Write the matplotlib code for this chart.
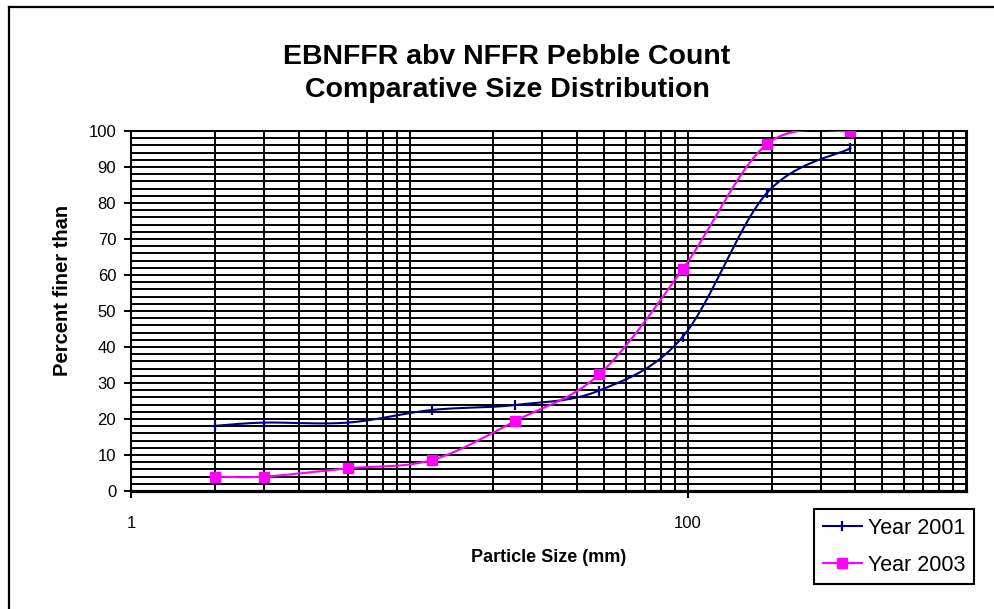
import numpy as np
import matplotlib
matplotlib.use('Agg')
import matplotlib.pyplot as plt
from matplotlib.lines import Line2D
from matplotlib.ticker import NullFormatter

plt.rcParams['font.family'] = ['Liberation Sans', 'DejaVu Sans']

'''
Pebble count data
'''

sizes_mm = [2, 3, 6, 12, 24, 48, 96, 192, 384]
finer_2001 = [18.1, 19.0, 19.0, 22.5, 23.9, 27.9, 42.9, 82.7, 95.2]
finer_2003 = [4.0, 4.0, 6.3, 8.6, 19.5, 32.4, 61.7, 96.3, 100.0]

series_names = ['Year 2001', 'Year 2003']
x_tick_values = [1, 100]
x_tick_labels = ['1', '100']

title_lines = ['EBNFFR abv NFFR Pebble Count', 'Comparative Size Distribution']


def smooth_curve(x, y, steps=40):
    # Excel-like smoothed line: Catmull-Rom in (log10 x, y) space
    u = np.log10(np.array(x, dtype=float))
    v = np.array(y, dtype=float)
    pu = np.concatenate([[u[0]], u, [u[-1]]])
    pv = np.concatenate([[v[0]], v, [v[-1]]])
    out_u, out_v = [], []
    t = np.linspace(0, 1, steps)
    for i in range(1, len(pu) - 2):
        b0u, b3u = pu[i], pu[i + 1]
        b0v, b3v = pv[i], pv[i + 1]
        b1u = b0u + (pu[i + 1] - pu[i - 1]) / 6
        b1v = b0v + (pv[i + 1] - pv[i - 1]) / 6
        b2u = b3u - (pu[i + 2] - pu[i]) / 6
        b2v = b3v - (pv[i + 2] - pv[i]) / 6
        cu = ((1 - t) ** 3 * b0u + 3 * (1 - t) ** 2 * t * b1u
              + 3 * (1 - t) * t ** 2 * b2u + t ** 3 * b3u)
        cv = ((1 - t) ** 3 * b0v + 3 * (1 - t) ** 2 * t * b1v
              + 3 * (1 - t) * t ** 2 * b2v + t ** 3 * b3v)
        out_u.extend(cu)
        out_v.extend(cv)
    return 10 ** np.array(out_u), np.array(out_v)


def plot_chart():
    W, H = 995, 609
    fig = plt.figure(figsize=(W / 100, H / 100), dpi=100)
    ax = fig.add_axes([131.5 / W, 1 - 491 / H, (966 - 131.5) / W, (491 - 131) / H])

    navy = '#000080'
    magenta = '#FF00FF'

    sx, sy = smooth_curve(sizes_mm, finer_2001)
    ax.plot(sx, sy, color=navy, lw=1.5, zorder=3)
    ax.plot(sizes_mm, finer_2001, ls='none', marker='|', ms=7, mew=1.6,
            color=navy, zorder=4)

    sx, sy = smooth_curve(sizes_mm, finer_2003)
    ax.plot(sx, sy, color=magenta, lw=1.5, zorder=3)
    ax.plot(sizes_mm, finer_2003, ls='none', marker='s', ms=7,
            color=magenta, zorder=4)

    ax.set_xscale('log')
    ax.set_xlim(1, 1000)
    ax.set_ylim(0, 100)

    ax.set_xticks(x_tick_values)
    ax.set_xticklabels(x_tick_labels)
    minor_x = [m * 10 ** k for k in range(3) for m in range(1, 10) if m * 10 ** k not in (1, 100)]
    ax.set_xticks(minor_x, minor=True)
    ax.xaxis.set_minor_formatter(NullFormatter())
    ax.set_yticks(np.arange(0, 101, 10))
    ax.set_yticks(np.arange(0, 101, 2), minor=True)

    ax.grid(True, which='both', color='black', lw=1.4)
    ax.set_axisbelow(True)
    ax.tick_params(which='minor', length=0)
    ax.tick_params(which='major', length=5, width=1.4, labelsize=12, pad=6)
    ax.tick_params(axis='x', which='major', pad=13)

    ax.spines['bottom'].set_linewidth(2.3)
    ax.spines['right'].set_linewidth(2.2)
    ax.spines['top'].set_linewidth(1.5)
    ax.spines['left'].set_linewidth(1.5)

    ax.set_xlabel('Particle Size (mm)', fontsize=13, fontweight='bold')
    ax.xaxis.set_label_coords(0.5, (491 - 558) / 360)
    ax.xaxis.label.set_va('center')
    ax.set_ylabel('Percent finer than', fontsize=14.5, fontweight='bold')
    ax.yaxis.set_label_coords((63 - 131.5) / 834.5, (491 - 290) / 360)
    ax.yaxis.label.set_va('center')

    fig.text(507 / W, 1 - 57 / H, title_lines[0], ha='center', va='center',
             fontsize=20.5, fontweight='bold')
    fig.text(507 / W, 1 - 90 / H, title_lines[1], ha='center', va='center',
             fontsize=20.5, fontweight='bold')

    handles = [
        Line2D([], [], color=navy, lw=1.5, marker='|', ms=7, mew=1.6),
        Line2D([], [], color=magenta, lw=1.5, marker='s', ms=7),
    ]
    leg = fig.legend(handles, series_names, loc='upper right',
                     bbox_to_anchor=(974 / W, 1 - 509 / H), fontsize=15.5,
                     frameon=True, fancybox=False, framealpha=1,
                     edgecolor='black', handlelength=1.8, handletextpad=0.3,
                     borderpad=0.4, labelspacing=0.75, borderaxespad=0)
    leg.get_frame().set_linewidth(1.5)

    # chart area border (left and top visible)
    fig.add_artist(Line2D([9 / W, 9 / W], [0, 1 - 7 / H], color='black', lw=1.6))
    fig.add_artist(Line2D([9 / W, 1], [1 - 7 / H, 1 - 7 / H], color='black', lw=1.6))

    fig.savefig('out.png', dpi=100)


plot_chart()
